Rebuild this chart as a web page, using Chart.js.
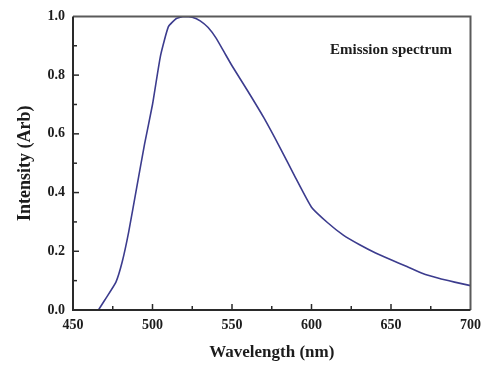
<!DOCTYPE html>
<html>
<head>
<meta charset="utf-8">
<script src="https://cdn.jsdelivr.net/npm/chart.js@4/dist/chart.umd.min.js"></script>
<style>
  html, body { margin: 0; padding: 0; background: #fff; }
  #wrap { width: 488px; height: 365px; }
</style>
</head>
<body>
<div id="wrap"><canvas id="spectrum"></canvas></div>
<script>
  // Emission spectrum
  const wavelength = [466, 470, 477, 481, 485, 490, 495, 500, 505, 510, 515, 520, 525, 530, 535, 540, 545, 550,
    560, 570, 580, 590, 600, 610, 620, 630, 640, 650, 660, 670, 680, 690, 700];
  const intensity = [0.0, 0.034, 0.095, 0.165, 0.265, 0.415, 0.565, 0.70, 0.865, 0.965, 0.993, 1.0, 0.997, 0.985, 0.962, 0.926, 0.879, 0.832,
    0.745, 0.655, 0.555, 0.45, 0.35, 0.298, 0.255, 0.223, 0.195, 0.171, 0.148, 0.124, 0.108, 0.095, 0.083];

  const xRange = [450, 700];
  const yRange = [0, 1];
  const xMajor = 50, xMinor = 25;
  const yMajor = 0.2, yMinor = 0.1;
  const seriesLabel = 'Emission spectrum';

  const SERIF = "'Liberation Serif', 'Times New Roman', serif";
  const INK = '#1c1c1c';

  // frame + inward ticks + inset label
  const framePlugin = {
    id: 'frame',
    afterDatasetsDraw(chart) {
      const { ctx, chartArea: a, scales: { x, y } } = chart;
      ctx.save();
      ctx.lineCap = 'butt';

      // top/right border (lighter)
      ctx.strokeStyle = '#5a5a5a';
      ctx.lineWidth = 2;
      ctx.beginPath();
      ctx.moveTo(a.left, a.top);
      ctx.lineTo(a.right, a.top);
      ctx.lineTo(a.right, a.bottom);
      ctx.stroke();

      // left/bottom axes
      ctx.strokeStyle = '#2a2a2a';
      ctx.beginPath();
      ctx.moveTo(a.left, a.top);
      ctx.lineTo(a.left, a.bottom);
      ctx.lineTo(a.right, a.bottom);
      ctx.stroke();

      // ticks pointing inward
      ctx.lineWidth = 1.5;
      for (let v = xRange[0] + xMinor; v < xRange[1]; v += xMinor) {
        const px = x.getPixelForValue(v);
        const len = (v % xMajor === 0) ? 6 : 4;
        ctx.beginPath();
        ctx.moveTo(px, a.bottom);
        ctx.lineTo(px, a.bottom - len);
        ctx.stroke();
      }
      for (let i = 1; i < 10; i++) {
        const v = yRange[0] + i * yMinor;
        const py = y.getPixelForValue(v);
        const len = (i % 2 === 0) ? 6 : 4;
        ctx.beginPath();
        ctx.moveTo(a.left, py);
        ctx.lineTo(a.left + len, py);
        ctx.stroke();
      }

      // inset label
      ctx.fillStyle = INK;
      ctx.font = 'bold 15px ' + SERIF;
      ctx.textAlign = 'left';
      ctx.textBaseline = 'middle';
      ctx.fillText(seriesLabel, a.left + 257, a.top + 34);
      ctx.restore();
    }
  };

  new Chart(document.getElementById('spectrum'), {
    type: 'line',
    data: {
      datasets: [{
        label: seriesLabel,
        data: wavelength.map((w, i) => ({ x: w, y: intensity[i] })),
        borderColor: '#3c3c8e',
        borderWidth: 1.6,
        pointRadius: 0,
        tension: 0.15,
        fill: false,
      }],
    },
    options: {
      responsive: true,
      maintainAspectRatio: false,
      animation: false,
      devicePixelRatio: 1,
      layout: { padding: { top: 11, right: 14, left: 11, bottom: 0 } },
      plugins: { legend: { display: false }, tooltip: { enabled: false } },
      scales: {
        x: {
          type: 'linear',
          min: xRange[0],
          max: xRange[1],
          border: { display: false },
          grid: { display: false, drawTicks: false },
          ticks: {
            stepSize: xMajor,
            padding: 7,
            color: INK,
            font: { family: SERIF, size: 14, weight: 'bold' },
          },
          title: {
            display: true,
            text: 'Wavelength (nm)',
            color: INK,
            padding: { top: 0, bottom: 2 },
            font: { family: SERIF, size: 17, weight: 'bold' },
          },
          afterFit(scale) { scale.height = 55; },
        },
        y: {
          min: yRange[0],
          max: yRange[1],
          border: { display: false },
          grid: { display: false, drawTicks: false },
          ticks: {
            stepSize: yMajor,
            padding: 8,
            color: INK,
            font: { family: SERIF, size: 14, weight: 'bold' },
            callback: (v) => Number(v).toFixed(1),
          },
          title: {
            display: true,
            text: 'Intensity (Arb)',
            color: INK,
            padding: { top: 4, bottom: 0 },
            font: { family: SERIF, size: 18, weight: 'bold' },
          },
          afterFit(scale) { scale.width = 62; },
        },
      },
    },
    plugins: [framePlugin],
  });
</script>
</body>
</html>
